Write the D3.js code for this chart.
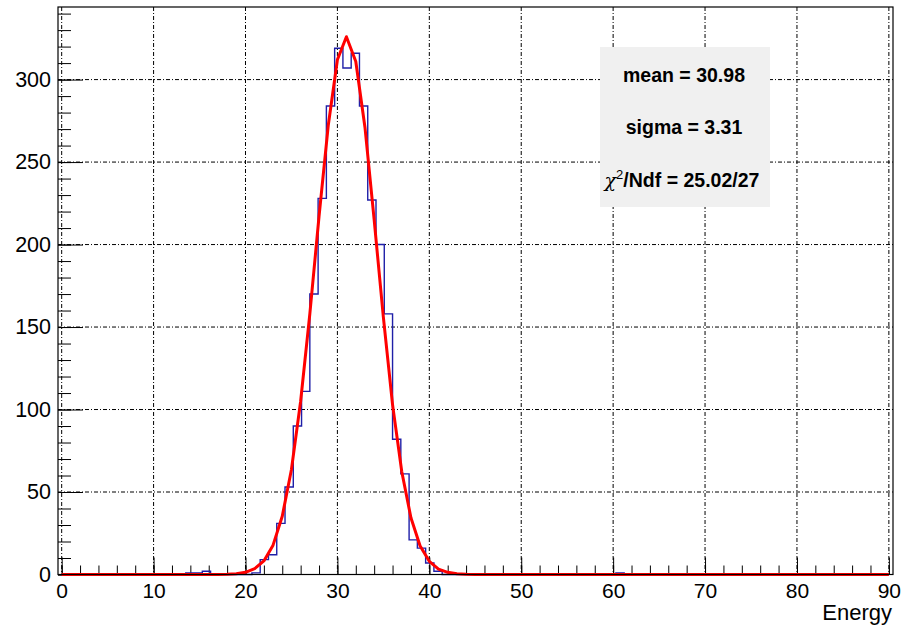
<!DOCTYPE html>
<html>
<head>
<meta charset="utf-8">
<script src="https://cdn.jsdelivr.net/npm/d3@7"></script>
<style>
  body { margin: 0; background: #fff; }
  text { font-family: "Liberation Sans", Arial, sans-serif; }
</style>
</head>
<body>
<svg id="chart"></svg>
<script>
// tick labels
const xTicks = [0, 10, 20, 30, 40, 50, 60, 70, 80, 90];
const yTicks = [0, 50, 100, 150, 200, 250, 300];

// histogram, bins of 0.9 (only the non empty ones)
const binWidth = 0.9;
const binLow = [13.5, 14.4, 15.3, 20.7, 21.6, 22.5, 23.4, 24.3, 25.2, 26.1, 27.0, 27.9, 28.8, 29.7,
  30.6, 31.5, 32.4, 33.3, 34.2, 35.1, 36.0, 36.9, 37.8, 38.7, 39.6, 40.5, 60.3];
const binCount = [1, 1, 2, 1, 9, 12, 31, 53, 90, 111, 170, 228, 284, 319,
  307, 316, 284, 227, 200, 158, 82, 61, 21, 16, 7, 2, 1];

// fitted curve
const fitX = [0, 16, 17, 18, 19, 20, 21, 22, 23, 24, 25, 26, 27, 28, 29, 30, 30.98,
  32, 33, 34, 35, 36, 37, 38, 39, 40, 41, 42, 43, 44, 45, 46, 90];
const fitY = [0, 0, 0.04, 0.15, 0.5, 1.3, 3.5, 8.2, 17.8, 35.3, 63.7, 105, 158, 217, 272, 312, 326,
  311, 271, 215, 156, 103, 62.4, 34.4, 17.3, 8, 3.3, 1.3, 0.45, 0.14, 0.04, 0, 0];

const statLines = ["mean = 30.98", "sigma = 3.31"];
const chiText = "/Ndf = 25.02/27";

const wSvg = 908;
const hSvg = 634;

const frame = { left: 58, right: 893, top: 7, bottom: 574.5 };

const svg = d3.select("#chart")
  .attr("width", wSvg)
  .attr("height", hSvg);

const x = d3.scaleLinear()
  .domain([-0.4, 90.45])
  .range([frame.left, frame.right]);

const y = d3.scaleLinear()
  .domain([0, 344])
  .range([frame.bottom, frame.top]);

// grid
svg.append("g")
  .selectAll("line")
  .data(xTicks)
  .enter()
  .append("line")
  .attr("x1", d => x(d))
  .attr("x2", d => x(d))
  .attr("y1", frame.top)
  .attr("y2", frame.bottom)
  .attr("stroke", "#000")
  .attr("stroke-dasharray", "4,2,1,2");

svg.append("g")
  .selectAll("line")
  .data(yTicks)
  .enter()
  .append("line")
  .attr("x1", frame.left)
  .attr("x2", frame.right)
  .attr("y1", d => y(d))
  .attr("y2", d => y(d))
  .attr("stroke", "#000")
  .attr("stroke-dasharray", "4,2,1,2");

// minor ticks
svg.append("g")
  .attr("transform", `translate(0, ${frame.bottom})`)
  .call(d3.axisBottom(x).tickValues(d3.range(0, 91, 2)).tickSize(-9).tickFormat(""))
  .call(g => g.select(".domain").remove());

svg.append("g")
  .attr("transform", `translate(${frame.left}, 0)`)
  .call(d3.axisLeft(y).tickValues(d3.range(0, 341, 10)).tickSize(-13).tickFormat(""))
  .call(g => g.select(".domain").remove());

// major ticks + labels
svg.append("g")
  .attr("transform", `translate(0, ${frame.bottom})`)
  .call(d3.axisBottom(x).tickValues(xTicks).tickSize(-17).tickPadding(9))
  .call(g => g.select(".domain").remove())
  .attr("font-size", 21)
  .attr("font-family", "Liberation Sans, Arial, sans-serif");

svg.append("g")
  .attr("transform", `translate(${frame.left}, 0)`)
  .call(d3.axisLeft(y).tickValues(yTicks).tickSize(-25).tickPadding(7))
  .call(g => g.select(".domain").remove())
  .attr("font-size", 21.5)
  .attr("font-family", "Liberation Sans, Arial, sans-serif");

// histogram outline
let counts = new Array(100).fill(0);
for (let i = 0; i < binLow.length; i++) {
  counts[Math.round(binLow[i] / binWidth)] = binCount[i];
}
let steps = counts.map((c, i) => [i * binWidth, c]);
steps.push([90, counts[99]]);

svg.append("path")
  .datum(steps)
  .attr("d", d3.line().x(d => x(d[0])).y(d => y(d[1])).curve(d3.curveStepAfter))
  .attr("fill", "none")
  .attr("stroke", "#1f1fa8")
  .attr("stroke-width", 1.4);

// fit
svg.append("path")
  .datum(fitX.map((d, i) => [d, fitY[i]]))
  .attr("d", d3.line().x(d => x(d[0])).y(d => y(d[1])))
  .attr("fill", "none")
  .attr("stroke", "#ff0000")
  .attr("stroke-width", 3)
  .attr("stroke-linejoin", "round");

// frame
svg.append("rect")
  .attr("x", frame.left)
  .attr("y", frame.top)
  .attr("width", frame.right - frame.left)
  .attr("height", frame.bottom - frame.top)
  .attr("fill", "none")
  .attr("stroke", "#000")
  .attr("stroke-width", 1.2);

svg.append("text")
  .attr("x", 892)
  .attr("y", 620)
  .attr("text-anchor", "end")
  .attr("font-size", 22)
  .text("Energy");

// stats box
svg.append("rect")
  .attr("x", 600)
  .attr("y", 47)
  .attr("width", 170)
  .attr("height", 160)
  .attr("fill", "#f0f0f0");

svg.append("g")
  .selectAll("text")
  .data(statLines)
  .enter()
  .append("text")
  .attr("x", 684)
  .attr("y", (d, i) => 81.5 + i * 52)
  .attr("text-anchor", "middle")
  .attr("font-size", 19.5)
  .attr("font-weight", "bold")
  .text(d => d);

let chi = svg.append("text")
  .attr("x", 682)
  .attr("y", 187)
  .attr("text-anchor", "middle")
  .attr("font-size", 19.5)
  .attr("font-weight", "bold");

chi.append("tspan")
  .attr("font-weight", "normal")
  .attr("font-style", "italic")
  .attr("font-family", "DejaVu Serif, serif")
  .attr("font-size", 19)
  .text("χ");
chi.append("tspan")
  .attr("font-weight", "normal")
  .attr("font-size", 13)
  .attr("dy", -8)
  .text("2");
chi.append("tspan")
  .attr("dy", 8)
  .text(chiText);
</script>
</body>
</html>
